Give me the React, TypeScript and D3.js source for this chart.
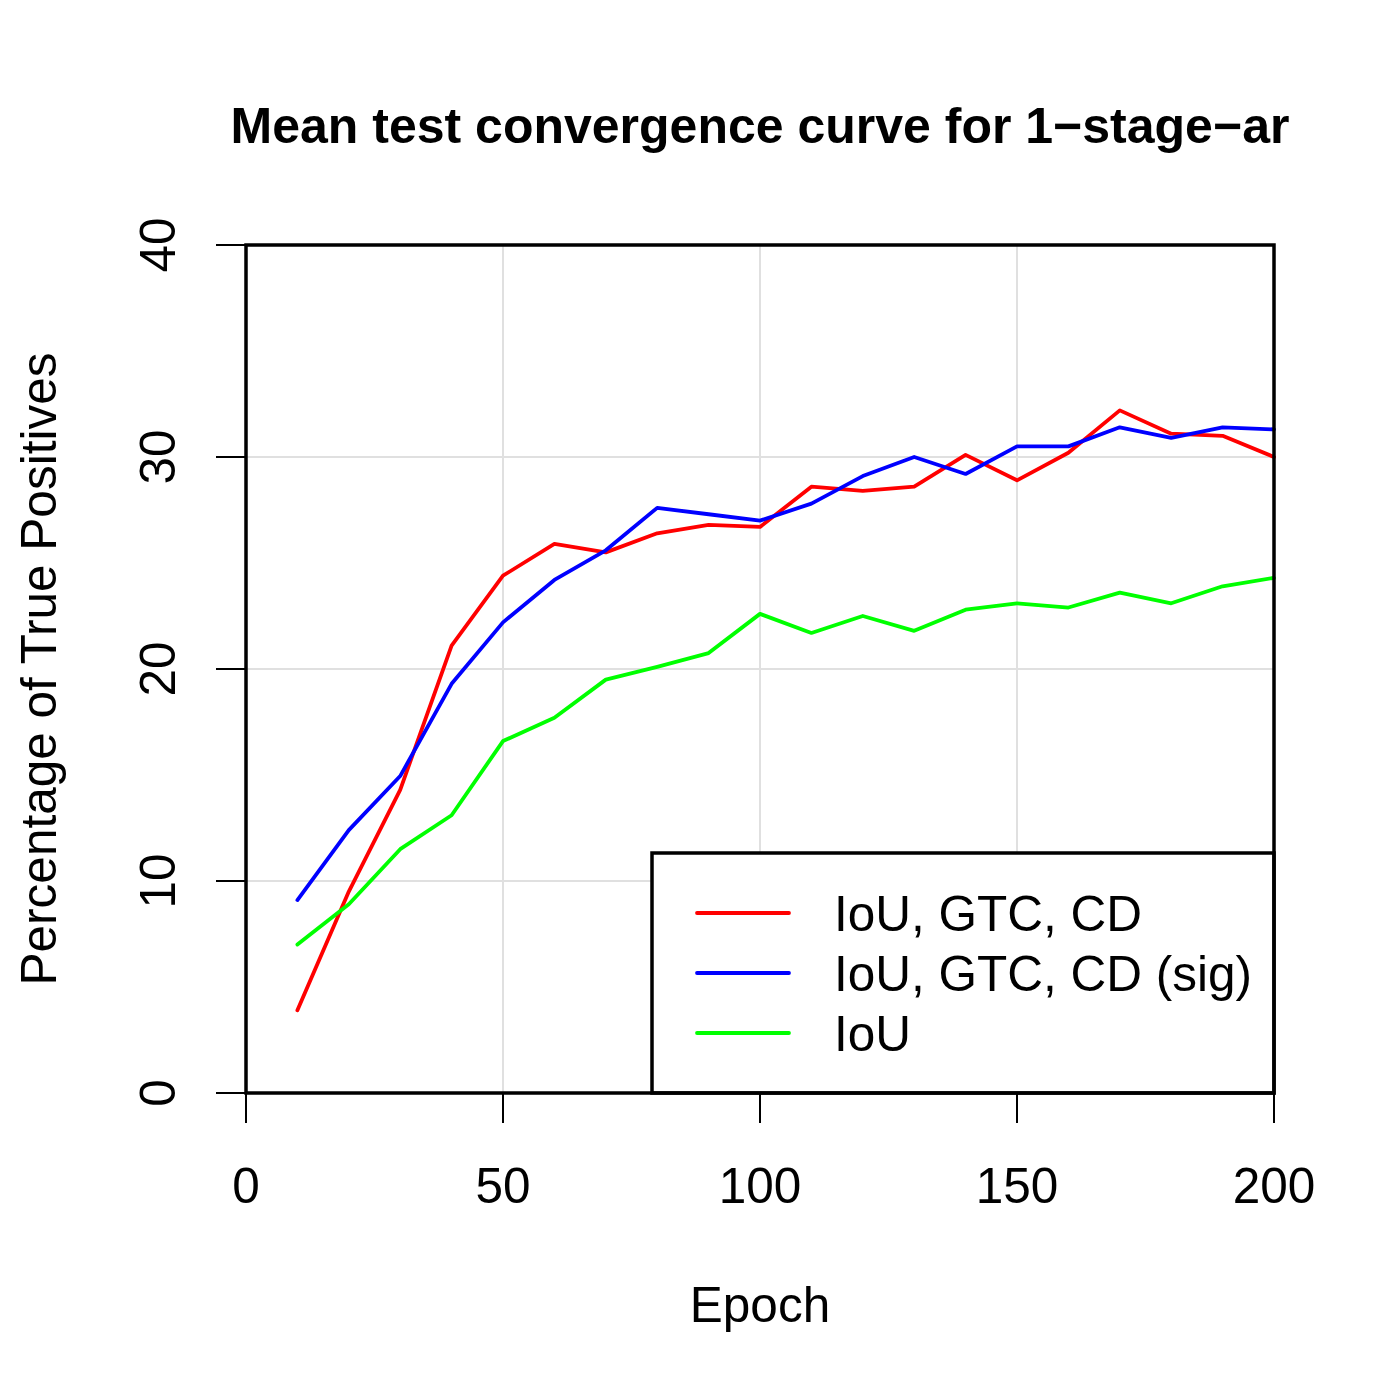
import React from 'react';
import * as d3 from 'd3';

const epochs = [10, 20, 30, 40, 50, 60, 70, 80, 90, 100, 110, 120, 130, 140, 150, 160, 170, 180, 190, 200];
const iouGtcCd = [3.9, 9.5, 14.3, 21.1, 24.4, 25.9, 25.5, 26.4, 26.8, 26.7, 28.6, 28.4, 28.6, 30.1, 28.9, 30.2, 32.2, 31.1, 31.0, 30.0];
const iouGtcCdSig = [9.1, 12.4, 14.95, 19.3, 22.2, 24.2, 25.6, 27.6, 27.3, 27.0, 27.8, 29.1, 30.0, 29.2, 30.5, 30.5, 31.4, 30.9, 31.4, 31.3];
const iouOnly = [7.0, 8.9, 11.5, 13.1, 16.6, 17.7, 19.5, 20.1, 20.75, 22.6, 21.7, 22.5, 21.8, 22.8, 23.1, 22.9, 23.6, 23.1, 23.9, 24.3];

const seriesNames = ['IoU, GTC, CD', 'IoU, GTC, CD (sig)', 'IoU'];
const seriesColors = ['#ff0000', '#0000ff', '#00ff00'];
const xTicks = [0, 50, 100, 150, 200];
const yTicks = [0, 10, 20, 30, 40];
const xGrid = [50, 100, 150, 200];
const yGrid = [10, 20, 30];

const W = 1400;
const H = 1400;
const font = '"Liberation Sans", Arial, Helvetica, sans-serif';
const fs = 49.5;

export default function App() {
  // plot region
  const left = 246, right = 1274, top = 245, bottom = 1093;

  const x = d3.scaleLinear().domain([0, 200]).range([left, right]);
  const y = d3.scaleLinear().domain([0, 40]).range([bottom, top]);

  const line = d3
    .line<number>()
    .x((_, i) => x(epochs[i]))
    .y(d => y(d));

  const allSeries = [iouGtcCd, iouGtcCdSig, iouOnly];

  // legend box
  const legLeft = 652, legTop = 853;

  return (
    <svg
      width={W}
      height={H}
      style={{position: 'absolute', left: 0, top: 0, background: '#fff'}}
      fontFamily={font}
    >
      <rect x={0} y={0} width={W} height={H} fill="#fff" />

      {/* grid */}
      {xGrid.map(t => (
        <line key={'gx' + t} x1={x(t)} x2={x(t)} y1={top} y2={bottom} stroke="#e0e0e0" strokeWidth={2} />
      ))}
      {yGrid.map(t => (
        <line key={'gy' + t} x1={left} x2={right} y1={y(t)} y2={y(t)} stroke="#e0e0e0" strokeWidth={2} />
      ))}

      {/* series */}
      {allSeries.map((s, i) => (
        <path
          key={'s' + i}
          d={line(s) || ''}
          fill="none"
          stroke={seriesColors[i]}
          strokeWidth={3.8}
          strokeLinejoin="round"
          strokeLinecap="round"
        />
      ))}

      {/* legend */}
      <rect
        x={legLeft}
        y={legTop}
        width={right - legLeft}
        height={bottom - legTop}
        fill="#fff"
        stroke="#000"
        strokeWidth={3.5}
      />
      {seriesNames.map((name, i) => {
        const ly = 913 + i * 60;
        return (
          <g key={'l' + i}>
            <line x1={697} x2={789} y1={ly} y2={ly} stroke={seriesColors[i]} strokeWidth={3.8} strokeLinecap="round" />
            <text x={834} y={ly} dy="0.36em" fontSize={fs} fill="#000">
              {name}
            </text>
          </g>
        );
      })}

      {/* box */}
      <rect x={left} y={top} width={right - left} height={bottom - top} fill="none" stroke="#000" strokeWidth={3.5} />

      {/* x axis */}
      {xTicks.map(t => (
        <g key={'xt' + t}>
          <line x1={x(t)} x2={x(t)} y1={bottom} y2={bottom + 30} stroke="#000" strokeWidth={2} />
          <text x={x(t)} y={1203} textAnchor="middle" fontSize={fs} fill="#000">
            {t}
          </text>
        </g>
      ))}

      {/* y axis */}
      {yTicks.map(t => (
        <g key={'yt' + t}>
          <line x1={left - 30} x2={left} y1={y(t)} y2={y(t)} stroke="#000" strokeWidth={2} />
          <text
            transform={`translate(175, ${y(t)}) rotate(-90)`}
            textAnchor="middle"
            fontSize={fs}
            fill="#000"
          >
            {t}
          </text>
        </g>
      ))}

      {/* labels */}
      <text x={760} y={1322} textAnchor="middle" fontSize={fs} fill="#000">
        Epoch
      </text>
      <text
        transform={`translate(56, ${(top + bottom) / 2}) rotate(-90)`}
        textAnchor="middle"
        fontSize={fs}
        fill="#000"
      >
        Percentage of True Positives
      </text>
      <text x={760} y={143} textAnchor="middle" fontSize={50} fontWeight="bold" fill="#000">
        Mean test convergence curve for 1−stage−ar
      </text>
    </svg>
  );
}
